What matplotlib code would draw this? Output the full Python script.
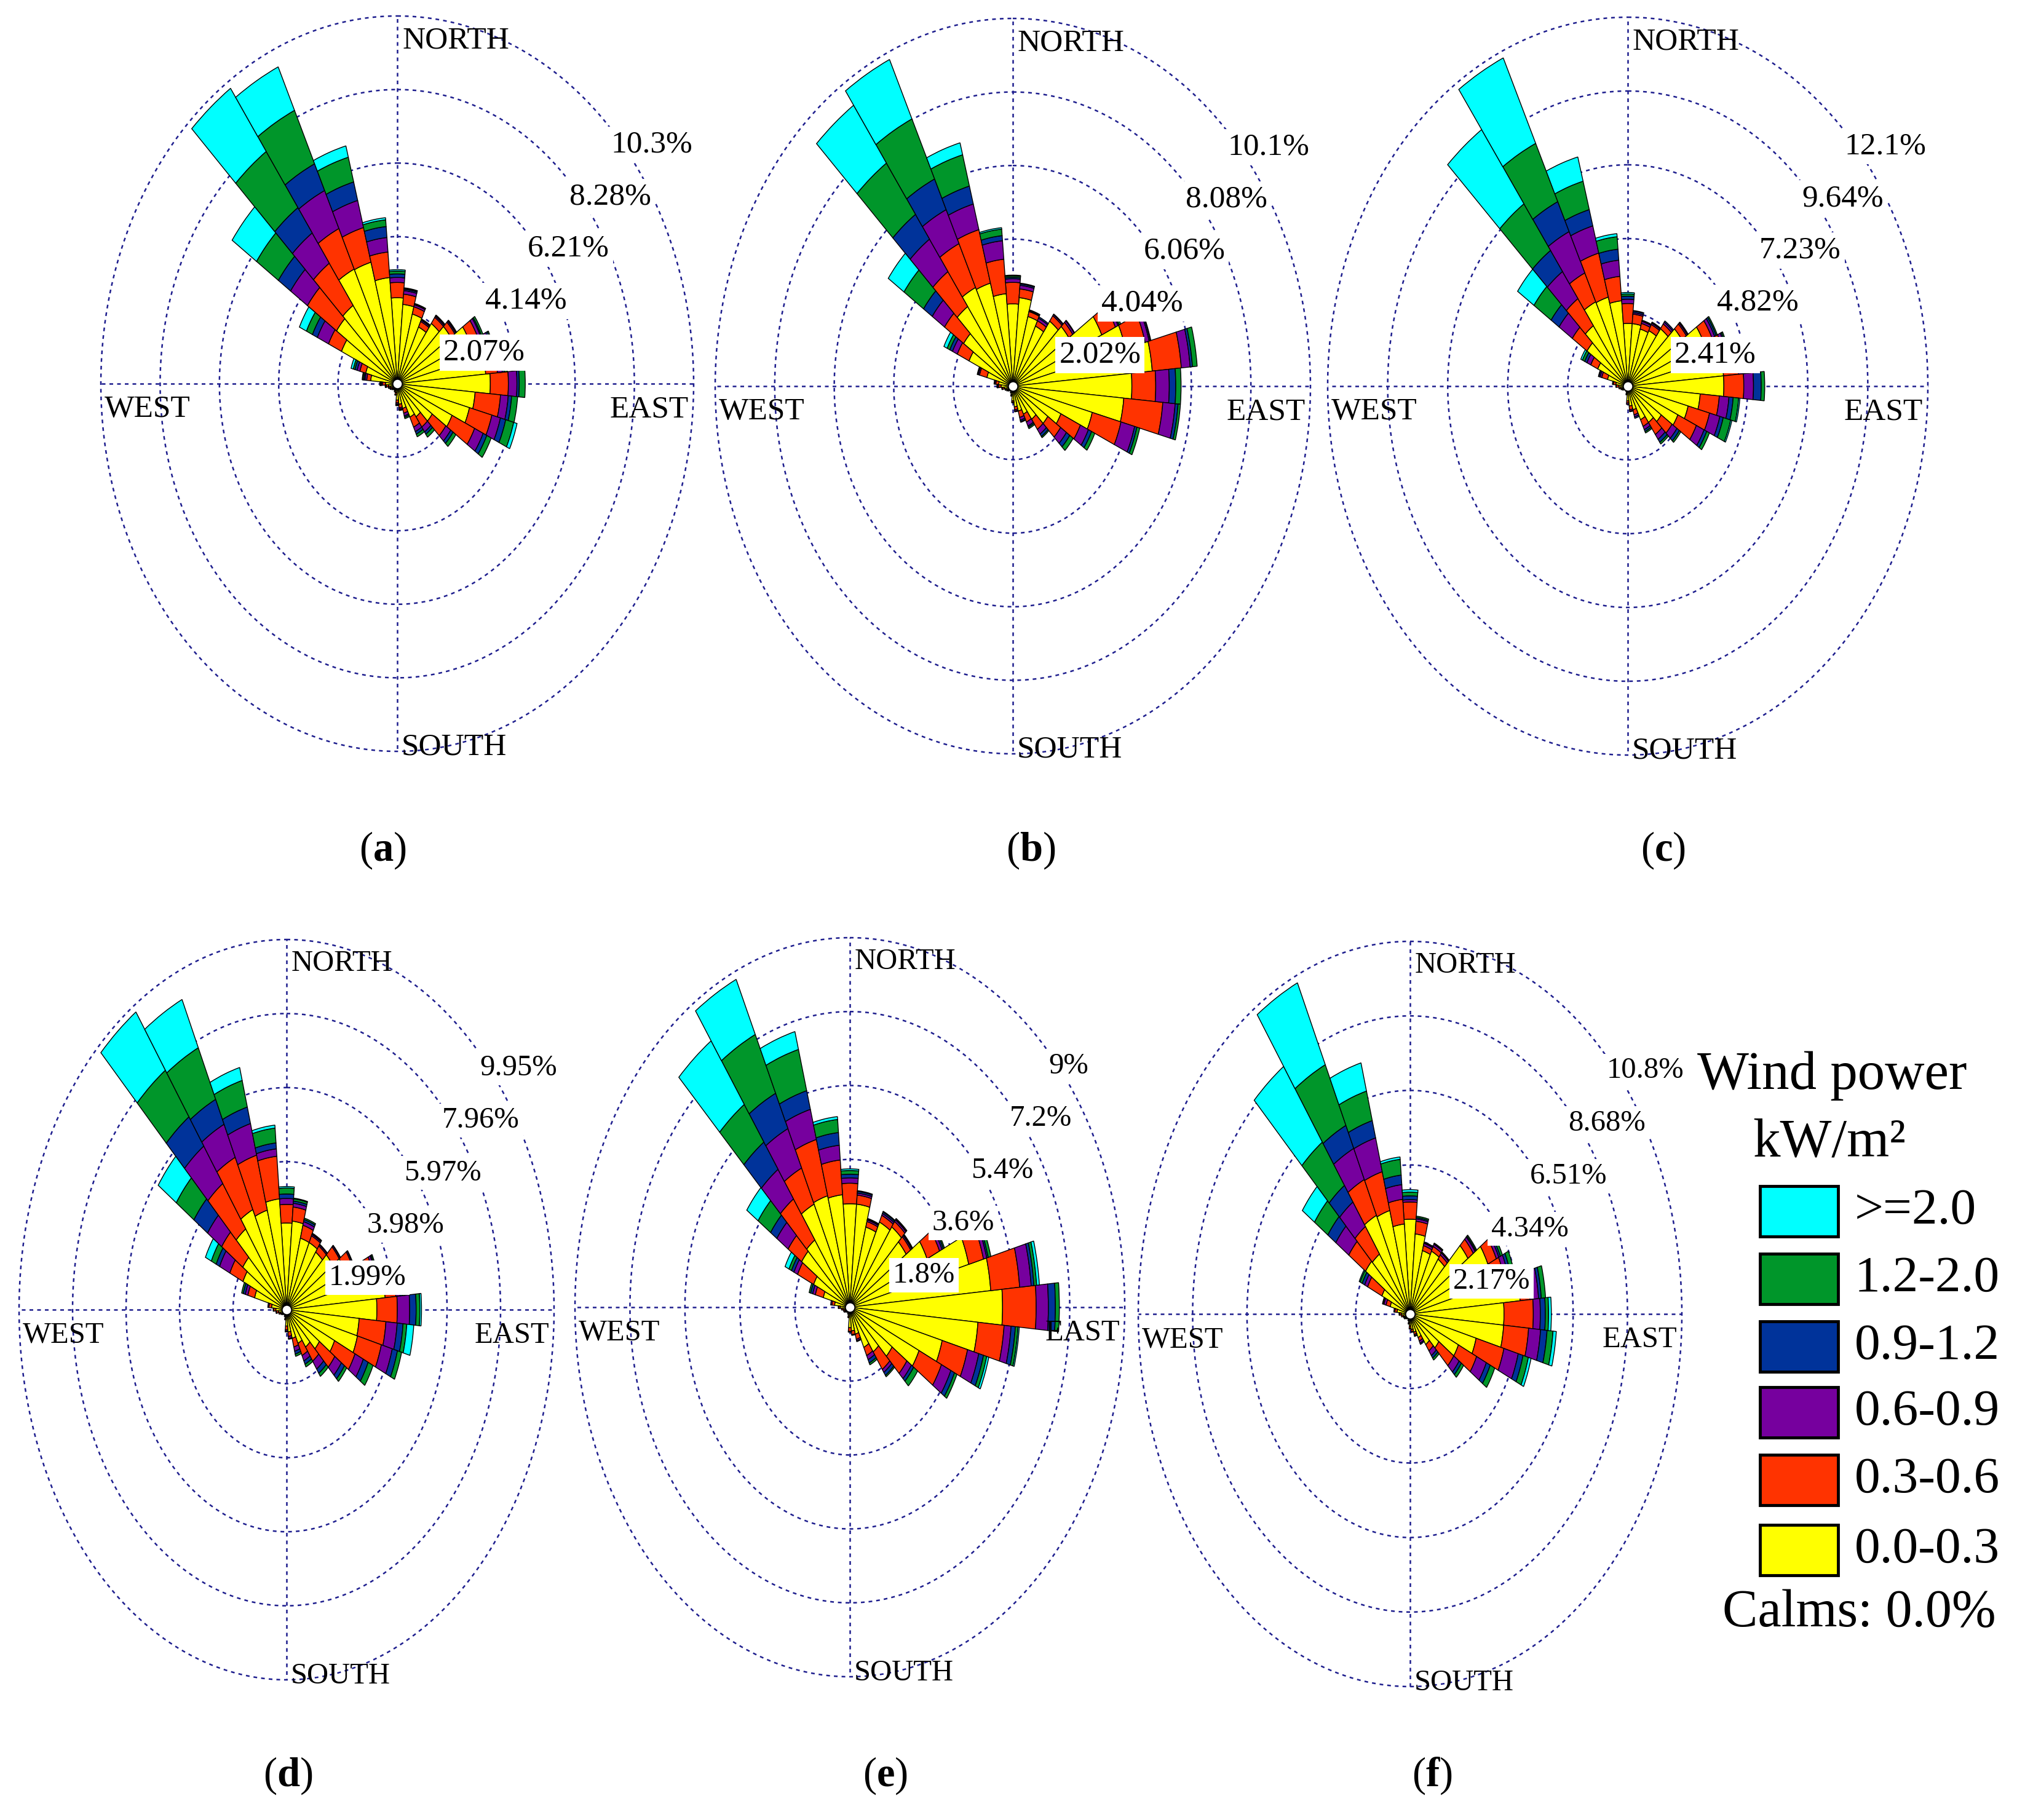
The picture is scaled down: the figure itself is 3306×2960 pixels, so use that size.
import numpy as np
import matplotlib
matplotlib.use('Agg')
import matplotlib.pyplot as plt
from matplotlib.patches import Rectangle

plt.rcParams['font.family'] = ['Liberation Serif', 'DejaVu Serif']
plt.rcParams['mathtext.fontset'] = 'custom'
plt.rcParams['mathtext.rm'] = 'Liberation Serif'
plt.rcParams['mathtext.bf'] = 'Liberation Serif:bold'

W, H = 3306, 2960
DPI = 100

# ---------------- data ----------------
directions = np.arange(0, 360, 10)          # 36 direction sectors (deg)
bin_labels = ['0.0-0.3', '0.3-0.6', '0.6-0.9', '0.9-1.2', '1.2-2.0', '>=2.0']
bin_colors = ['#ffff00', '#ff3300', '#76009e', '#00339a', '#00962a', '#00ffff']

# frequency (%) per direction (rows 0..350 deg) and wind-power bin (columns)
freq_a = [
    [2.42, .43, .14, .10, .08, .04], [2.24, .29, .10, .04, .02, .02], [2.03, .21, .06, .02, .02, 0],
    [1.76, .17, .04, .02, .02, 0], [2.07, .21, .04, .02, .02, 0], [2.28, .17, .04, .02, .02, 0],
    [2.79, .31, .10, .04, .06, 0], [3.00, .31, .10, .06, .04, 0], [3.10, .41, .17, .08, .10, 0],
    [3.25, .63, .30, .08, .21, 0], [2.73, .89, .27, .12, .21, 0], [2.61, .81, .31, .19, .29, .12],
    [2.11, .87, .33, .14, .17, 0], [1.49, .58, .21, .10, .12, 0], [1.14, .35, .17, .08, .10, 0],
    [1.04, .31, .14, .08, .08, 0], [.72, .14, .08, .04, .04, 0], [.58, .10, .04, .02, .02, 0],
    [.46, .08, .04, .02, .02, 0], [.25, .06, .02, 0, 0, 0], [.21, .04, 0, 0, 0, 0],
    [.17, .04, 0, 0, 0, 0], [.17, .04, 0, 0, 0, 0], [.21, .04, 0, 0, 0, 0],
    [.21, .06, .02, 0, 0, 0], [.25, .06, .02, 0, 0, 0], [.31, .08, .02, .02, 0, 0],
    [.41, .10, .04, .02, .02, .02], [.93, .14, .06, .04, .04, .02], [1.14, .21, .10, .08, .06, .08],
    [2.15, .50, .43, .19, .23, .27], [2.59, 1.24, .72, .52, .93, 1.04], [2.69, 1.45, 1.04, .87, 1.93, 2.17],
    [3.56, 1.26, 1.18, .83, 1.66, 1.35], [3.54, 1.01, .79, .54, .72, .33], [3.00, .72, .41, .31, .19, .06],
]
freq_b = [
    [2.26, .59, .10, .04, .04, .02], [2.44, .24, .10, .04, .02, 0], [1.98, .14, .02, .02, .01, 0],
    [1.82, .16, .08, .04, 0, 0], [2.18, .18, .04, .02, 0, 0], [2.32, .16, .06, .02, 0, 0],
    [3.33, .51, .10, .04, .06, 0], [3.96, .69, .14, .04, .02, 0], [4.75, .99, .30, .08, .16, 0],
    [4.04, .81, .46, .22, .18, 0], [3.78, 1.33, .42, .10, .08, 0], [2.79, 1.01, .48, .08, .10, 0],
    [1.80, .73, .30, .12, .12, 0], [1.45, .53, .24, .14, .14, 0], [1.11, .34, .16, .08, .04, 0],
    [.85, .24, .12, .04, .04, 0], [.71, .18, .08, .04, .02, 0], [.57, .08, .04, .02, 0, 0],
    [.40, .04, .02, 0, 0, 0], [.24, .04, 0, 0, 0, 0], [.16, .04, 0, 0, 0, 0],
    [.14, .02, 0, 0, 0, 0], [.14, .02, 0, 0, 0, 0], [.16, .04, 0, 0, 0, 0],
    [.20, .04, 0, 0, 0, 0], [.24, .04, 0, 0, 0, 0], [.30, .06, .02, 0, 0, 0],
    [.40, .08, .04, .02, 0, 0], [.48, .10, .04, .02, 0, 0], [.91, .26, .04, .02, .02, 0],
    [1.64, .44, .18, .10, .10, .12], [2.04, .79, .51, .36, .81, .65], [2.67, 1.17, 1.09, .83, 1.72, 1.94],
    [2.99, 1.33, 1.03, .93, 1.82, 1.80], [2.93, 1.52, .73, .51, .89, .34], [2.55, .95, .51, .14, .18, .04],
]
freq_c = [
    [2.05, .65, .14, .10, .07, .05], [2.05, .31, .05, .05, .02, 0], [1.93, .19, .07, .02, .02, 0],
    [2.00, .22, .05, .02, .02, 0], [2.29, .19, .07, .05, 0, 0], [2.65, .22, .05, .02, .02, 0],
    [3.37, .36, .12, .07, .05, 0], [3.62, .36, .12, .05, .05, 0], [3.86, .60, .24, .17, .19, 0],
    [3.86, .80, .39, .31, .14, 0], [2.92, .77, .39, .17, .22, .05], [2.51, .89, .43, .14, .31, .05],
    [2.22, .82, .34, .12, .12, 0], [1.64, .53, .24, .12, .07, 0], [1.45, .48, .19, .12, .07, 0],
    [1.21, .24, .12, .07, .05, 0], [.80, .17, .07, .05, 0, 0], [.65, .12, .05, .02, 0, 0],
    [.48, .07, .05, 0, 0, 0], [.24, .05, 0, 0, 0, 0], [.17, .02, 0, 0, 0, 0],
    [.14, .02, 0, 0, 0, 0], [.14, .02, 0, 0, 0, 0], [.17, .02, 0, 0, 0, 0],
    [.19, .05, 0, 0, 0, 0], [.24, .05, 0, 0, 0, 0], [.29, .07, 0, 0, 0, 0],
    [.36, .10, .02, 0, 0, 0], [.48, .10, .02, .02, 0, 0], [.84, .24, .07, .05, .02, 0],
    [1.33, .31, .17, .10, .10, .07], [2.00, .72, .65, .39, .84, .80], [2.41, 1.08, 1.08, .84, 1.86, 2.96],
    [3.04, 1.04, 1.49, 1.08, 2.10, 3.08], [3.01, 1.49, .92, .55, .96, .82], [2.80, .80, .53, .36, .41, .10],
]
freq_d = [
    [2.33, .50, .16, .12, .16, .04], [2.39, .38, .10, .06, .06, .02], [1.99, .36, .10, .06, .04, 0],
    [1.99, .20, .04, .02, .02, 0], [1.89, .20, .04, .02, 0, 0], [2.09, .30, .04, .02, 0, 0],
    [2.39, .32, .04, .02, 0, 0], [2.89, .46, .08, .04, .04, 0], [3.68, .40, .16, .08, .10, 0],
    [3.36, .76, .46, .24, .14, .06], [2.71, 1.00, .42, .22, .14, .26], [2.73, .92, .42, .20, .16, 0],
    [1.97, .84, .34, .20, .20, 0], [1.49, .70, .30, .14, .10, 0], [1.23, .46, .26, .14, .10, 0],
    [1.00, .36, .16, .10, .08, 0], [.80, .24, .12, .08, .06, 0], [.60, .12, .06, .02, 0, 0],
    [.44, .10, .04, .02, 0, 0], [.24, .04, 0, 0, 0, 0], [.16, .04, 0, 0, 0, 0],
    [.14, .02, 0, 0, 0, 0], [.14, .02, 0, 0, 0, 0], [.16, .04, 0, 0, 0, 0],
    [.20, .04, 0, 0, 0, 0], [.24, .06, 0, 0, 0, 0], [.30, .08, .02, 0, 0, 0],
    [.40, .08, .02, 0, 0, 0], [.56, .10, .04, 0, 0, 0], [1.23, .26, .10, .08, .06, 0],
    [1.79, .54, .42, .14, .20, .24], [1.99, .96, .64, .62, .80, .82], [2.65, 1.49, 1.23, .96, 1.53, 1.91],
    [2.97, 1.55, .98, .74, 1.53, 1.43], [2.77, 1.53, .88, .46, .74, .36], [2.99, 1.15, .20, .16, .40, .08],
]
freq_e = [
    [2.52, .50, .13, .09, .09, .04], [2.52, .22, .05, .04, .02, 0], [2.02, .14, .04, .02, .02, 0],
    [2.29, .18, .05, .04, .02, 0], [2.39, .16, .05, .02, .02, 0], [2.25, .18, .04, .02, .02, 0],
    [2.79, .45, .09, .05, .04, 0], [4.03, .50, .11, .05, .09, 0], [4.63, .95, .38, .09, .09, .09],
    [5.00, 1.10, .40, .23, .13, 0], [4.21, .86, .23, .14, .09, .04], [3.13, .86, .38, .16, .11, .07],
    [2.50, .81, .34, .13, .09, 0], [1.69, .59, .18, .09, .16, 0], [1.33, .52, .09, .09, .04, 0],
    [1.08, .22, .11, .09, .05, 0], [.68, .13, .04, .02, 0, 0], [.58, .09, .02, 0, 0, 0],
    [.50, .09, .02, 0, 0, 0], [.22, .04, 0, 0, 0, 0], [.14, .04, 0, 0, 0, 0],
    [.13, .02, 0, 0, 0, 0], [.13, .02, 0, 0, 0, 0], [.14, .04, 0, 0, 0, 0],
    [.18, .04, 0, 0, 0, 0], [.18, .05, 0, 0, 0, 0], [.23, .05, 0, 0, 0, 0],
    [.31, .05, .02, 0, 0, 0], [.50, .09, .04, 0, 0, 0], [.90, .27, .09, .07, .05, 0],
    [1.31, .58, .13, .09, .09, .14], [1.93, .54, .45, .25, .50, .45], [2.00, 1.22, .88, .81, 1.12, 1.89],
    [2.77, .97, 1.06, .95, 1.58, 1.48], [2.81, 1.42, .76, .47, 1.04, .45], [2.75, .85, .36, .31, .32, .07],
]
freq_f = [
    [2.76, .50, .07, .11, .11, .07], [2.34, .37, .07, .04, .04, 0], [1.91, .15, .07, .02, .02, 0],
    [2.02, .15, .07, .02, .02, 0], [1.95, .15, .07, .02, .02, 0], [2.82, .26, .09, .04, .04, 0],
    [3.43, .37, .11, .07, .09, 0], [3.47, .43, .17, .11, .15, 0], [4.41, .39, .35, .11, .17, 0],
    [3.75, 1.17, .28, .20, .13, .11], [3.75, 1.00, .48, .26, .24, .13], [2.73, 1.15, .59, .20, .22, .11],
    [2.13, .80, .43, .17, .20, 0], [1.40, .73, .26, .11, .11, 0], [1.09, .22, .17, .09, .07, 0],
    [.76, .11, .07, .04, 0, 0], [.55, .07, .04, .02, 0, 0], [.45, .07, .02, 0, 0, 0],
    [.35, .07, .02, 0, 0, 0], [.26, .04, 0, 0, 0, 0], [.17, .04, 0, 0, 0, 0],
    [.15, .02, 0, 0, 0, 0], [.15, .02, 0, 0, 0, 0], [.17, .04, 0, 0, 0, 0],
    [.22, .04, 0, 0, 0, 0], [.24, .04, 0, 0, 0, 0], [.28, .07, 0, 0, 0, 0],
    [.35, .07, .02, 0, 0, 0], [.52, .09, .04, 0, 0, 0], [.82, .17, .09, .04, .02, 0],
    [1.24, .63, .13, .11, .09, .04], [2.17, .82, .63, .39, .65, .59], [2.13, .98, .87, .59, 1.54, 2.69],
    [3.17, 1.15, 1.00, .74, 1.95, 2.63], [3.12, 1.17, 1.02, .52, .89, .85], [2.63, .72, .43, .28, .46, .07],
]

ring_a = 2.07; ring_labels_a = ['2.07%', '4.14%', '6.21%', '8.28%', '10.3%']
ring_b = 2.02; ring_labels_b = ['2.02%', '4.04%', '6.06%', '8.08%', '10.1%']
ring_c = 2.41; ring_labels_c = ['2.41%', '4.82%', '7.23%', '9.64%', '12.1%']
ring_d = 1.99; ring_labels_d = ['1.99%', '3.98%', '5.97%', '7.96%', '9.95%']
ring_e = 1.80; ring_labels_e = ['1.8%', '3.6%', '5.4%', '7.2%', '9%']
ring_f = 2.17; ring_labels_f = ['2.17%', '4.34%', '6.51%', '8.68%', '10.8%']

legend_title = 'Wind power\nkW/m²'
calms_text = 'Calms: 0.0%'

# ---------------- layout (pixels) ----------------
# letter, data, ring step, ring labels, centre x, centre y, radius x, radius y, font size, letter pos
panels = [
    ('a', freq_a, ring_a, ring_labels_a, 646, 624, 482, 598, 37, (622, 1383)),
    ('b', freq_b, ring_b, ring_labels_b, 1647, 628, 484, 598, 37, (1676, 1383)),
    ('c', freq_c, ring_c, ring_labels_c, 2647, 628, 488, 600, 37, (2705, 1383)),
    ('d', freq_d, ring_d, ring_labels_d, 466, 2130, 435, 602, 35, (468, 2888)),
    ('e', freq_e, ring_e, ring_labels_e, 1382, 2126, 447, 601, 35, (1440, 2888)),
    ('f', freq_f, ring_f, ring_labels_f, 2293, 2137, 442, 606, 35, (2329, 2888)),
]

GRID = '#1e1e8e'

fig = plt.figure(figsize=(W / DPI, H / DPI), dpi=DPI)
fig.patch.set_facecolor('white')


def draw_rose(freq, ring, labels, cx, cy, rx, ry, fs):
    ax = fig.add_axes([(cx - rx) / W, (H - cy - ry) / H, 2 * rx / W, 2 * ry / H],
                      projection='polar')
    ax.set_aspect('auto')
    ax.set_theta_zero_location('N')
    ax.set_theta_direction(-1)
    rmax = 5 * ring
    ax.set_ylim(0, rmax)
    ax.set_xticks([])
    ax.set_yticks([])
    ax.grid(False)
    ax.spines['polar'].set_visible(False)
    ax.patch.set_visible(False)

    gkw = dict(color=GRID, lw=1.8, ls=(0, (2.4, 2.6)), zorder=1, clip_on=False)
    th = np.linspace(0, 2 * np.pi, 721)
    for k in range(1, 6):
        ax.plot(th, np.full_like(th, k * ring), **gkw)
    for ang in (0, 90, 180, 270):
        t = np.deg2rad(ang)
        ax.plot([t, t], [0, rmax], **gkw)

    f = np.array(freq, dtype=float)
    theta = np.deg2rad(directions)
    width = np.deg2rad(10)
    bottom = np.zeros(len(directions))
    for j in range(len(bin_labels)):
        h = f[:, j]
        m = h > 0
        ax.bar(theta[m], h[m], width=width, bottom=bottom[m], color=bin_colors[j],
               edgecolor='black', linewidth=1.0, zorder=3, align='center')
        bottom = bottom + h
    ax.plot([0], [0], 'o', ms=11, mfc='white', mec='black', mew=1.2, zorder=6)

    for k, lab in enumerate(labels, start=1):
        ax.annotate(lab, xy=(np.deg2rad(45), k * ring), xytext=(7, -11),
                    textcoords='offset pixels', ha='left', va='top', fontsize=fs, zorder=8,
                    bbox=dict(boxstyle='square,pad=0.12', fc='white', ec='none'))

    ax.annotate('NORTH', xy=(0, rmax), xytext=(8, -17), textcoords='offset pixels',
                ha='left', va='top', fontsize=fs, zorder=8)
    ax.annotate('SOUTH', xy=(np.pi, rmax), xytext=(7, -6), textcoords='offset pixels',
                ha='left', va='baseline', fontsize=fs, zorder=8)
    ax.annotate('WEST', xy=(1.5 * np.pi, rmax), xytext=(6, -42), textcoords='offset pixels',
                ha='left', va='center', fontsize=fs, zorder=8)
    ax.annotate('EAST', xy=(0.5 * np.pi, rmax), xytext=(-8, -42), textcoords='offset pixels',
                ha='right', va='center', fontsize=fs, zorder=8)
    return ax


for letter, freq, ring, labels, cx, cy, rx, ry, fs, lpos in panels:
    draw_rose(freq, ring, labels, cx, cy, rx, ry, fs)

# overlay in pixel coordinates: panel letters and legend
ov = fig.add_axes([0, 0, 1, 1])
ov.set_xlim(0, W)
ov.set_ylim(H, 0)
ov.axis('off')

for letter, freq, ring, labels, cx, cy, rx, ry, fs, lpos in panels:
    ov.text(lpos[0], lpos[1], '($\\mathbf{%s}$)' % letter, ha='center', va='center', fontsize=48)

title_lines = legend_title.split('\n')
ov.text(2979, 1750, title_lines[0], ha='center', va='center', fontsize=64)
ov.text(2975, 1859, title_lines[1], ha='center', va='center', fontsize=64)

row_centres = [1970, 2080, 2190, 2297, 2407, 2521]
for i, yc in enumerate(row_centres):
    j = len(bin_labels) - 1 - i
    ov.add_patch(Rectangle((2862, yc - 41), 127, 82, facecolor=bin_colors[j],
                           edgecolor='black', linewidth=3.5))
    ov.text(3016, yc, bin_labels[j], ha='left', va='center', fontsize=60)

ov.text(3023, 2624, calms_text, ha='center', va='center', fontsize=62)

fig.savefig('out.png', dpi=DPI)
